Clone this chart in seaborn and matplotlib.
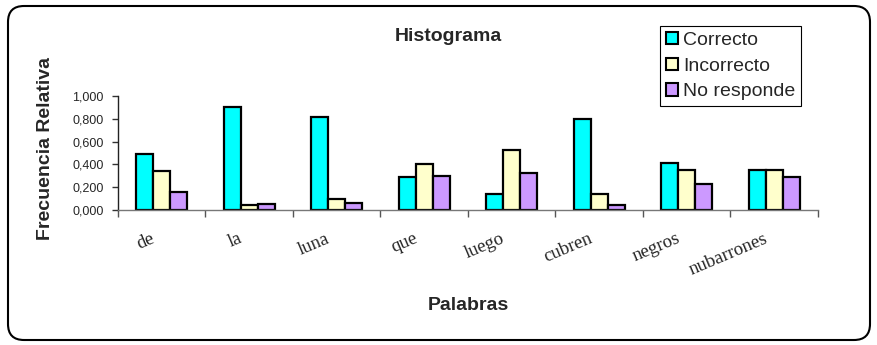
import pandas as pd
import seaborn as sns
import matplotlib.pyplot as plt
from matplotlib.patches import FancyBboxPatch
from matplotlib.transforms import IdentityTransform, ScaledTranslation
from matplotlib.ticker import FuncFormatter, FixedLocator

sns.set_theme(style="white")
plt.rcParams["font.family"] = ["Liberation Sans", "DejaVu Sans"]

palabras = ["de", "la", "luna", "que", "luego", "cubren", "negros", "nubarrones"]
respuestas = ["Correcto", "Incorrecto", "No responde"]
correcto = [0.487, 0.900, 0.820, 0.290, 0.137, 0.800, 0.416, 0.355]
incorrecto = [0.340, 0.044, 0.100, 0.400, 0.528, 0.137, 0.355, 0.349]
no_responde = [0.161, 0.050, 0.060, 0.300, 0.326, 0.044, 0.225, 0.293]
colores = ["#00FFFF", "#FFFFCC", "#CC99FF"]

df = pd.DataFrame({
    "Palabras": palabras * 3,
    "Frecuencia": correcto + incorrecto + no_responde,
    "Respuesta": [r for r in respuestas for _ in palabras],
})

fig = plt.figure(figsize=(8.78, 3.45), dpi=100)
ax = fig.add_axes([118 / 878, 1 - 210 / 345, 700 / 878, 114 / 345])

sns.barplot(
    data=df, x="Palabras", y="Frecuencia", hue="Respuesta",
    palette=colores, saturation=1, edgecolor="black", linewidth=1.6,
    width=0.58, gap=0, ax=ax, legend=False,
)

ax.set_xlim(-0.5, 7.5)
ax.set_ylim(0, 1.0)
ax.set_yticks([0, 0.2, 0.4, 0.6, 0.8, 1.0])
ax.yaxis.set_major_formatter(FuncFormatter(lambda v, p: f"{v:.3f}".replace(".", ",")))
ax.tick_params(axis="y", direction="out", length=4, width=1, color="#333333",
               labelsize=9, pad=6.5, left=True)

# labels centred, tick marks on the boundaries between words
ax.set_xticks(range(len(palabras)))
ax.set_xticklabels(palabras, rotation=23, ha="right", va="baseline",
                   rotation_mode="anchor",
                   family=["Liberation Serif", "DejaVu Serif"], fontsize=13.5)
ax.tick_params(axis="x", which="major", length=0, pad=23)
ax.xaxis.set_minor_locator(FixedLocator([i - 0.5 for i in range(len(palabras) + 1)]))
ax.tick_params(axis="x", which="minor", direction="out", length=5, width=1,
               color="#555555", bottom=True)
shift = ScaledTranslation(-6 / 100, 0, fig.dpi_scale_trans)
for lab in ax.get_xticklabels():
    lab.set_transform(lab.get_transform() + shift)

ax.set_xlabel("")
ax.set_ylabel("")
for s in ("top", "right"):
    ax.spines[s].set_visible(False)
ax.spines["left"].set_color("#222222")
ax.spines["bottom"].set_color("#777777")
ax.spines["left"].set_linewidth(1)
ax.spines["bottom"].set_linewidth(1)

fig.text(448 / 878, 1 - 41 / 345, "Histograma", ha="center", va="baseline",
         fontsize=14, fontweight="bold")
fig.text(468 / 878, 1 - 310 / 345, "Palabras", ha="center", va="baseline",
         fontsize=14, fontweight="bold")
fig.text(46 / 878, 1 - 149 / 345, "Frecuencia Relativa", ha="center", va="center",
         rotation=90, fontsize=14, fontweight="bold")

handles = [plt.Rectangle((0, 0), 1, 1, facecolor=c, edgecolor="black", linewidth=1.5)
           for c in colores]
leg = fig.legend(handles, respuestas, loc="upper left",
                 bbox_to_anchor=(660 / 878, 1 - 26 / 345), borderaxespad=0,
                 fontsize=14, handlelength=0.65, handleheight=0.6,
                 handletextpad=0.25, labelspacing=0.45, borderpad=0.3,
                 fancybox=False, framealpha=1)
leg.get_frame().set_edgecolor("black")
leg.get_frame().set_linewidth(0.8)

border = FancyBboxPatch((8, 5), 862, 334, boxstyle="round,pad=0,rounding_size=16",
                        transform=IdentityTransform(), facecolor="none",
                        edgecolor="black", linewidth=1.5, zorder=10)
fig.patches.append(border)

fig.savefig("out.png", dpi=100)
